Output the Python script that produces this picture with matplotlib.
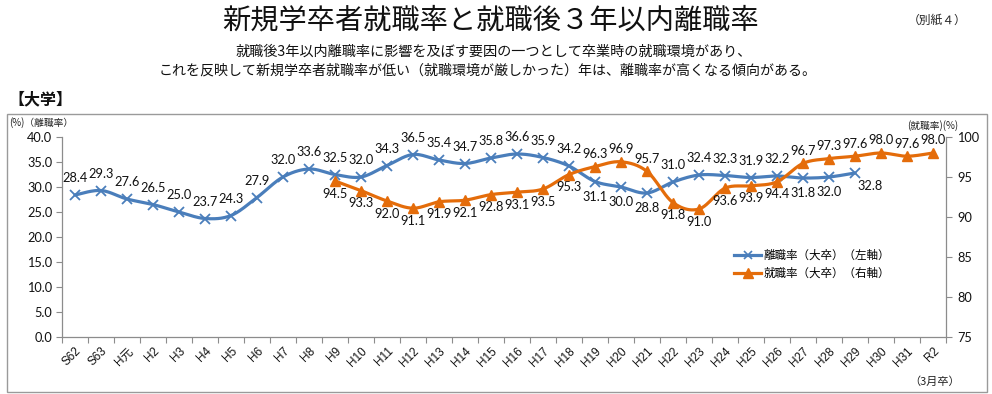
import numpy as np
import matplotlib
matplotlib.use("Agg")
import matplotlib.pyplot as plt
from matplotlib.patches import Rectangle
from matplotlib.lines import Line2D

plt.rcParams['font.family'] = ['Lato', 'Noto Sans CJK JP', 'DejaVu Sans']

# ---------------- data ----------------
years = ["S62", "S63", "H元"] + [f"H{i}" for i in range(2, 32)] + ["R2"]
separation = [28.4, 29.3, 27.6, 26.5, 25.0, 23.7, 24.3, 27.9, 32.0, 33.6,
              32.5, 32.0, 34.3, 36.5, 35.4, 34.7, 35.8, 36.6, 35.9, 34.2,
              31.1, 30.0, 28.8, 31.0, 32.4, 32.3, 31.9, 32.2, 31.8, 32.0,
              32.8, None, None, None]
employment = [None] * 10 + [94.5, 93.3, 92.0, 91.1, 91.9, 92.1, 92.8, 93.1,
                            93.5, 95.3, 96.3, 96.9, 95.7, 91.8, 91.0, 93.6,
                            93.9, 94.4, 96.7, 97.3, 97.6, 98.0, 97.6, 98.0]
left_ticks = [0, 5, 10, 15, 20, 25, 30, 35, 40]
right_ticks = [75, 80, 85, 90, 95, 100]

# label placement: a=above, b=below, r=right-below
sep_pos = ["a"] * 20 + ["b", "b", "b"] + ["a"] * 5 + ["b", "b", "r"] + [None] * 3
emp_pos = [None] * 10 + ["b"] * 10 + ["a", "a", "a"] + ["b"] * 5 + ["a"] * 6

BLUE = "#4A7EBB"
ORANGE = "#E46C0A"
AXC = "#8C8C8C"


def smooth(x, y, n=24):
    pts = np.column_stack([x, y]).astype(float)
    if len(pts) < 3:
        return pts[:, 0], pts[:, 1]
    P = np.vstack([pts[0], pts, pts[-1]])
    out = []
    t = np.linspace(0, 1, n, endpoint=False)[:, None]
    for i in range(len(pts) - 1):
        p0, p1, p2, p3 = P[i], P[i + 1], P[i + 2], P[i + 3]
        c1 = p1 + (p2 - p0) / 6.0
        c2 = p2 - (p3 - p1) / 6.0
        seg = ((1 - t) ** 3) * p1 + 3 * ((1 - t) ** 2) * t * c1 + 3 * (1 - t) * t ** 2 * c2 + t ** 3 * p2
        out.append(seg)
    out.append(pts[-1:])
    arr = np.vstack(out)
    return arr[:, 0], arr[:, 1]


W, H = 992, 394
fig = plt.figure(figsize=(W / 100, H / 100), dpi=100)

# outer frame
fig.patches.append(Rectangle((7 / W, 2 / H), (987 - 7) / W, (280 - 2) / H,
                             transform=fig.transFigure, fill=False,
                             edgecolor="#9a9a9a", lw=1.0))

ax = fig.add_axes([62 / W, 1 - 337 / H, (946 - 62) / W, (337 - 137) / H])
ax2 = ax.twinx()

x = np.arange(len(years))

# separation (left axis)
xs = np.array([i for i, v in enumerate(separation) if v is not None])
ys = np.array([v for v in separation if v is not None])
sx, sy = smooth(xs, ys)
ax.plot(sx, sy, color=BLUE, lw=2.3, solid_capstyle="round", zorder=3)
ax.plot(xs, ys, ls="none", marker="x", ms=6.5, mew=1.3, color=BLUE, zorder=4)

# employment (right axis)
xe = np.array([i for i, v in enumerate(employment) if v is not None])
ye = np.array([v for v in employment if v is not None])
ex, ey = smooth(xe, ye)
ax2.plot(ex, ey, color=ORANGE, lw=2.3, solid_capstyle="round", zorder=3)
ax2.plot(xe, ye, ls="none", marker="^", ms=7.5, color=ORANGE, zorder=4)

lab_kw = dict(fontsize=9.2, family=["Lato", "DejaVu Sans"], color="#111111",
              ha="center", va="center", textcoords="offset points")
for i, v in enumerate(separation):
    if v is None:
        continue
    p = sep_pos[i]
    off = {"a": (0, 12), "b": (0, -11), "r": (11, -9)}[p]
    ax.annotate(f"{v:.1f}", (i, v), xytext=off, **lab_kw)
for i, v in enumerate(employment):
    if v is None:
        continue
    p = emp_pos[i]
    off = {"a": (0, 9), "b": (0, -9)}[p]
    ax2.annotate(f"{v:.1f}", (i, v), xytext=off, **lab_kw)

# axes formatting
ax.set_xlim(-0.5, len(years) - 0.5)
ax.set_ylim(0, 40)
ax2.set_ylim(75, 100)
ax.set_yticks(left_ticks)
ax.set_yticklabels([f"{t:.1f}" for t in left_ticks], fontsize=9.2)
ax2.set_yticks(right_ticks)
ax2.set_yticklabels([str(t) for t in right_ticks], fontsize=9.2)
ax.set_xticks(x)
ax.set_xticklabels(years, rotation=45, ha="right", va="top",
                   rotation_mode="anchor", fontsize=8.5,
                   family=["Liberation Sans", "Noto Sans CJK JP"])
ax.set_xticks(np.arange(-0.5, len(years), 1.0), minor=True)
ax.tick_params(axis="x", which="major", length=0, pad=6, colors="#111111")
ax.tick_params(axis="x", which="minor", length=4, color=AXC, width=0.8)
ax.tick_params(axis="y", length=4, color=AXC, width=0.8, pad=3, colors="#111111")
ax.tick_params(axis="y", which="both", color=AXC)
ax2.tick_params(axis="y", length=4, color=AXC, width=0.8, pad=4, labelcolor="#111111")

for a in (ax, ax2):
    a.spines["top"].set_visible(False)
    for s in ("left", "right", "bottom"):
        a.spines[s].set_color(AXC)
        a.spines[s].set_linewidth(0.9)
    a.patch.set_visible(False)
ax.spines["right"].set_visible(False)
ax2.spines["left"].set_visible(False)
ax2.spines["bottom"].set_visible(False)

# legend
h1 = Line2D([], [], color=BLUE, lw=2.3, marker="x", ms=6, mew=1.2)
h2 = Line2D([], [], color=ORANGE, lw=2.3, marker="^", ms=7)
leg = ax2.legend([h1, h2], ["離職率（大卒）（左軸）", "就職率（大卒）（右軸）"],
                 loc="upper left", bbox_to_anchor=(728 / W, 1 - 243 / H),
                 bbox_transform=fig.transFigure, frameon=False,
                 prop={"family": "Noto Sans CJK JP", "size": 8.3},
                 handlelength=2.4, handletextpad=0.2, labelspacing=0.45,
                 borderpad=0)

# texts
cjk = ["Noto Sans CJK JP", "DejaVu Sans"]
fig.text(491 / W, 1 - 21 / H, "新規学卒者就職率と就職後３年以内離職率",
         ha="center", va="center", fontsize=20.3, family=cjk, color="#111111")
fig.text(937 / W, 1 - 20 / H, "（別紙４）", ha="center", va="center",
         fontsize=8.5, family=cjk, color="#222222")
fig.text(494 / W, 1 - 52 / H,
         "就職後3年以内離職率に影響を及ぼす要因の一つとして卒業時の就職環境があり、",
         ha="center", va="center", fontsize=10.2, family=cjk, color="#111111")
fig.text(488 / W, 1 - 71 / H,
         "これを反映して新規学卒者就職率が低い（就職環境が厳しかった）年は、離職率が高くなる傾向がある。",
         ha="center", va="center", fontsize=10.1, family=cjk, color="#111111")
fig.text(8 / W, 1 - 99 / H, "【大学】", ha="left", va="center",
         fontsize=11.5, family=cjk, color="#111111", fontweight="bold")
fig.text(9 / W, 1 - 123 / H, "(%)（離職率）", ha="left", va="center",
         fontsize=7, family=cjk, color="#222222")
fig.text(907 / W, 1 - 126 / H, "(就職率)(%)", ha="left", va="center",
         fontsize=7, family=cjk, color="#222222")
fig.text(909 / W, 1 - 382 / H, "（3月卒）", ha="left", va="center",
         fontsize=8, family=cjk, color="#222222")

fig.savefig("out.png", dpi=100)
